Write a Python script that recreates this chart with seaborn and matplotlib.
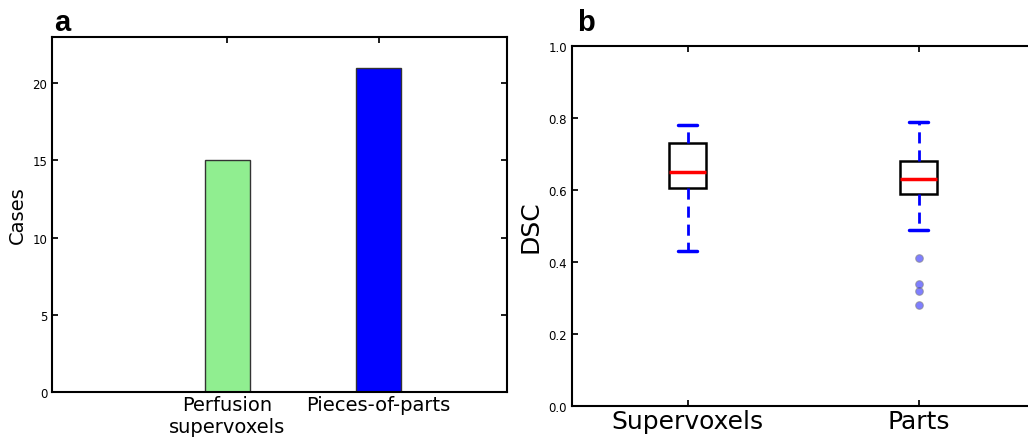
import matplotlib
matplotlib.use("Agg")
import matplotlib.pyplot as plt
import seaborn as sns
import pandas as pd
import numpy as np

# ---- data ----
bar_categories = ["Perfusion\nsupervoxels", "Pieces-of-parts"]
bar_values = [15, 21]
bar_colors = ["#90EE90", "#0000FF"]

box_categories = ["Supervoxels", "Parts"]
supervoxels_dsc = [0.43, 0.605, 0.65, 0.73, 0.78]
parts_dsc = [0.28, 0.32, 0.34, 0.41, 0.49, 0.59, 0.60, 0.61, 0.62, 0.625, 0.63,
             0.64, 0.65, 0.66, 0.67, 0.68, 0.70, 0.72, 0.75, 0.77, 0.79]

sns.set_theme(style="white")
plt.rcParams['font.family'] = ['DejaVu Sans']
plt.rcParams.update({
    "text.color": "black",
    "axes.labelcolor": "black",
    "xtick.color": "black",
    "ytick.color": "black",
})

W, H = 1028, 439
fig = plt.figure(figsize=(W / 100, H / 100), dpi=100)

# ---- panel a ----
ax1 = fig.add_axes([52 / W, 1 - 393 / H, (507 - 52) / W, (393 - 38) / H])
df_bar = pd.DataFrame({"cat": bar_categories, "val": bar_values})
sns.barplot(data=df_bar, x="cat", y="val", hue="cat", palette=bar_colors,
            width=0.3, edgecolor="#333333", linewidth=1, legend=False, ax=ax1,
            saturation=1)
ax1.set_xlim(-1.16, 1.85)
ax1.set_ylim(0, 23)
ax1.set_yticks([0, 5, 10, 15, 20])
ax1.set_xlabel("")
ax1.set_ylabel("Cases", fontsize=14)
ax1.tick_params(axis="y", labelsize=8.5, direction="in", length=4, right=True, left=True)
ax1.tick_params(axis="x", labelsize=14, direction="in", length=4, top=True, bottom=True, pad=2)
for s in ax1.spines.values():
    s.set_visible(True)
    s.set_color("black")
    s.set_linewidth(1.5)

# ---- panel b ----
ax2 = fig.add_axes([572 / W, 1 - 407 / H, (1034 - 572) / W, (407 - 47) / H])
df_box = pd.DataFrame({
    "method": [box_categories[0]] * len(supervoxels_dsc) + [box_categories[1]] * len(parts_dsc),
    "dsc": supervoxels_dsc + parts_dsc,
})
sns.boxplot(data=df_box, x="method", y="dsc", order=box_categories, width=0.156,
            color="white", linecolor="black", linewidth=1.8, whis=1.5, ax=ax2,
            boxprops=dict(edgecolor="black", linewidth=1.8, facecolor="white"),
            medianprops=dict(color="red", linewidth=2.5),
            whiskerprops=dict(color="blue", linestyle=(0, (4, 2.5)), linewidth=2),
            capprops=dict(color="blue", linewidth=2.5),
            flierprops=dict(marker="o", markerfacecolor=(0, 0, 1, 0.5),
                            markeredgecolor=(0.5, 0.5, 0.5, 0.6), markersize=5.5,
                            markeredgewidth=0.8))
ax2.set_xlim(-0.5, 1.5)
ax2.set_ylim(0, 1.0)
ax2.set_yticks([0.0, 0.2, 0.4, 0.6, 0.8, 1.0])
ax2.set_yticklabels(["0.0", "0.2", "0.4", "0.6", "0.8", "1.0"])
ax2.set_xlabel("")
ax2.set_ylabel("DSC", fontsize=18)
ax2.tick_params(axis="y", labelsize=8.5, direction="in", length=4, right=True, left=True)
ax2.tick_params(axis="x", labelsize=18, direction="in", length=4, top=True, bottom=True, pad=2)
for s in ax2.spines.values():
    s.set_visible(True)
    s.set_color("black")
    s.set_linewidth(1.5)

fig.text(54 / W, 1 - 31 / H, "a", fontsize=21, fontweight="bold", color="black",
         family=["Liberation Sans", "DejaVu Sans"])
fig.text(577 / W, 1 - 31 / H, "b", fontsize=21, fontweight="bold", color="black",
         family=["Liberation Sans", "DejaVu Sans"])

fig.savefig("out.png", dpi=100)
